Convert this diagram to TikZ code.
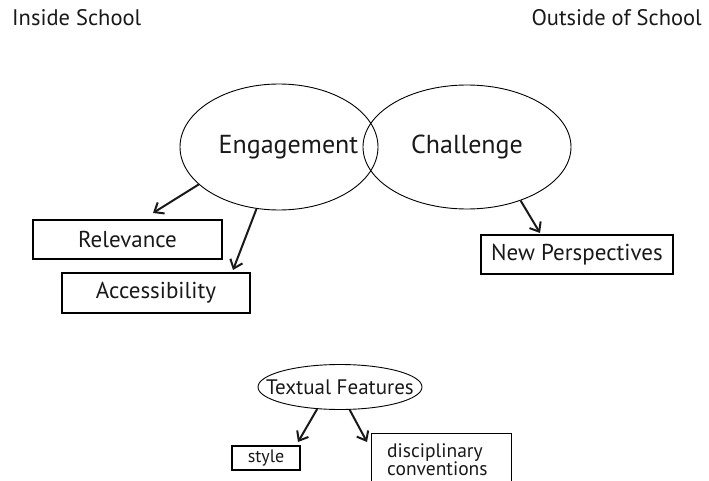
\documentclass[tikz,border=0pt]{standalone}
\usepackage{fontspec}
\setmainfont{PT Sans}
\usetikzlibrary{arrows.meta,shapes.geometric}
\begin{document}
\begin{tikzpicture}[x=1pt,y=-1pt,
  lbl/.style={font=\fontsize{22.5}{26}\selectfont, inner sep=0pt, anchor=base west, text=black!90},
  oval/.style={draw, ellipse, line width=0.9pt, inner sep=0pt, font=\fontsize{26}{30}\selectfont, text=black!90},
  boxnode/.style={draw, rectangle, line width=1.2pt, inner sep=0pt, font=\fontsize{23}{26}\selectfont, text=black!90},
  arr/.style={line width=2pt, black!90, -{Straight Barb[length=8pt,width=13pt,line width=2pt]}}]
\useasboundingbox (0,0) rectangle (709,481);
% headers
\node[lbl] (inside) at (12,26) {Inside School};
\node[lbl, anchor=base east] (outside) at (702,26) {Outside of School};
% main ellipses
\node[oval, minimum width=198pt, minimum height=126pt] (eng) at (279,147) {\makebox[0pt]{\hspace*{19pt}Engagement}};
\node[oval, minimum width=208pt, minimum height=124pt] (cha) at (467,147) {\makebox[0pt]{Challenge}};
% boxes
\node[boxnode, minimum width=189pt, minimum height=39pt] (rel) at (127.5,239.5) {Relevance};
\node[boxnode, minimum width=188pt, minimum height=40pt] (acc) at (156,293) {Accessibility};
\node[boxnode, minimum width=192pt, minimum height=39pt] (np) at (577,254.5) {New Perspectives};
% textual features
\node[oval, minimum width=164pt, minimum height=45pt, font=\fontsize{21}{24}\selectfont] (tf) at (340,387) {\makebox[0pt]{Textual Features}};
\node[boxnode, minimum width=68pt, minimum height=24pt, font=\fontsize{18}{21}\selectfont] (sty) at (266,458) {style};
\node[boxnode, anchor=north west, minimum width=140pt, minimum height=62pt] (dcbox) at (371,433) {};
\node[inner sep=0pt, anchor=north west, align=left, font=\fontsize{19.5}{18}\selectfont, text=black!90] (dc) at (387,443) {disciplinary\\conventions};
% arrow tips
\coordinate (trel) at (153,213);
\coordinate (tacc) at (233,270);
\coordinate (tnp) at (540,233);
\coordinate (tsty) at (298,442);
\coordinate (tdc) at (367,442);
% arrows
\draw[arr] (eng.205) -- (trel);
\draw[arr] (eng.250.5) -- (tacc);
\draw[arr] (cha.315.5) -- (tnp);
\draw[arr] (tf.224) -- (tsty);
\draw[arr] (tf.293.5) -- (tdc);
\end{tikzpicture}
\end{document}
